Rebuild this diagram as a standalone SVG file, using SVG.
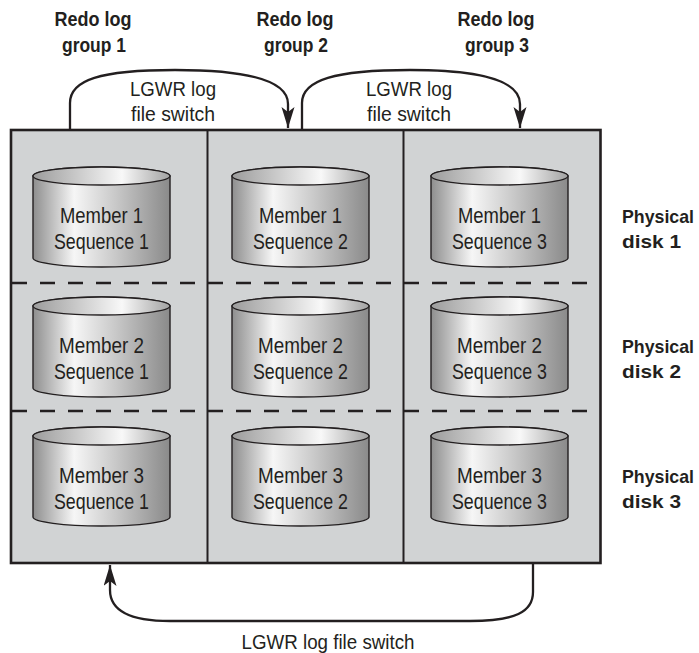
<svg xmlns="http://www.w3.org/2000/svg" width="699" height="653" viewBox="0 0 699 653">
<style>
.lbl{font-family:"Liberation Sans",Arial,sans-serif;font-weight:bold;font-size:20px;fill:#231f20}
.side{font-family:"Liberation Sans",Arial,sans-serif;font-weight:bold;font-size:18.5px;fill:#231f20}
.cyl{font-family:"Liberation Sans",Arial,sans-serif;font-size:22.5px;fill:#231f20;text-anchor:middle}
.arr{font-family:"Liberation Sans",Arial,sans-serif;font-size:20px;fill:#231f20;text-anchor:middle}
.body{fill:url(#gBody);stroke:#231f20;stroke-width:1.4}
.top{fill:url(#gTop);stroke:#231f20;stroke-width:1.4}
.conn{fill:none;stroke:#231f20;stroke-width:2.3;marker-end:url(#ah)}
.dash{stroke:#231f20;stroke-width:2.3;stroke-dasharray:15 13}
</style>
<defs>
<linearGradient id="gBody" x1="0" y1="0" x2="1" y2="0">
<stop offset="0" stop-color="#8e8e8e"/>
<stop offset="0.3" stop-color="#f6f6f6"/>
<stop offset="0.6" stop-color="#c9c9c9"/>
<stop offset="1" stop-color="#8a8a8a"/>
</linearGradient>
<linearGradient id="gTop" x1="0" y1="0" x2="1" y2="0">
<stop offset="0" stop-color="#9c9c9c"/>
<stop offset="0.65" stop-color="#f8f8f8"/>
<stop offset="1" stop-color="#a2a2a2"/>
</linearGradient>
<marker id="ah" markerUnits="userSpaceOnUse" markerWidth="24" markerHeight="14" refX="21" refY="6.5" orient="auto">
<path d="M0,0 L21,6.5 L0,13 L5,6.5 Z" fill="#231f20"/>
</marker>
</defs>
<rect width="699" height="653" fill="#ffffff"/>

<g id="frame">
<rect x="11" y="130" width="589.5" height="433" fill="#d1d3d4" stroke="#231f20" stroke-width="2.6"/>
<line x1="207.5" y1="130" x2="207.5" y2="563" stroke="#231f20" stroke-width="2"/>
<line x1="403.5" y1="130" x2="403.5" y2="563" stroke="#231f20" stroke-width="2"/>
<line class="dash" x1="12" y1="283" x2="600" y2="283"/>
<line class="dash" x1="12" y1="411" x2="600" y2="411"/>
</g>

<g id="labels-top">
<text class="lbl" x="93" y="26" text-anchor="middle" textLength="77" lengthAdjust="spacingAndGlyphs">Redo log</text>
<text class="lbl" x="94" y="52" text-anchor="middle" textLength="64" lengthAdjust="spacingAndGlyphs">group 1</text>
<text class="lbl" x="295" y="26" text-anchor="middle" textLength="77" lengthAdjust="spacingAndGlyphs">Redo log</text>
<text class="lbl" x="296" y="52" text-anchor="middle" textLength="64" lengthAdjust="spacingAndGlyphs">group 2</text>
<text class="lbl" x="496" y="26" text-anchor="middle" textLength="77" lengthAdjust="spacingAndGlyphs">Redo log</text>
<text class="lbl" x="497" y="52" text-anchor="middle" textLength="64" lengthAdjust="spacingAndGlyphs">group 3</text>
</g>

<g id="labels-right">
<text class="side" x="622" y="222.5" textLength="72" lengthAdjust="spacingAndGlyphs">Physical</text>
<text class="side" x="622" y="248" textLength="59" lengthAdjust="spacingAndGlyphs">disk 1</text>
<text class="side" x="622" y="352.5" textLength="72" lengthAdjust="spacingAndGlyphs">Physical</text>
<text class="side" x="622" y="378" textLength="59" lengthAdjust="spacingAndGlyphs">disk 2</text>
<text class="side" x="622" y="482.5" textLength="72" lengthAdjust="spacingAndGlyphs">Physical</text>
<text class="side" x="622" y="508" textLength="59" lengthAdjust="spacingAndGlyphs">disk 3</text>
</g>

<g id="connectors">
<path class="conn" d="M70,130 V103 C70,80 100,70 175,70 C245,70 288,80 288,104 V128"/>
<path class="conn" d="M302,130 V103 C302,80 335,70 410,70 C480,70 520,80 520,104 V128"/>
<path class="conn" d="M533,564 V592 C533,612 515,621 470,621 H170 C130,621 110,610 110,590 V565"/>
<text class="arr" x="173" y="96" textLength="86" lengthAdjust="spacingAndGlyphs">LGWR log</text>
<text class="arr" x="173" y="120.5" textLength="84" lengthAdjust="spacingAndGlyphs">file switch</text>
<text class="arr" x="409" y="96" textLength="86" lengthAdjust="spacingAndGlyphs">LGWR log</text>
<text class="arr" x="409" y="120.5" textLength="84" lengthAdjust="spacingAndGlyphs">file switch</text>
<text class="arr" x="328" y="649" textLength="173" lengthAdjust="spacingAndGlyphs">LGWR log file switch</text>
</g>

<g id="m1s1"><path class="body" d="M33,176 V258 A68.5,9 0 0 0 170,258 V176 A68.5,9 0 0 0 33,176 Z"/><ellipse class="top" cx="101.5" cy="176" rx="68.5" ry="9"/>
<text class="cyl" x="101.5" y="223" textLength="83" lengthAdjust="spacingAndGlyphs">Member 1</text><text class="cyl" x="101.5" y="249" textLength="95" lengthAdjust="spacingAndGlyphs">Sequence 1</text></g>
<g id="m1s2"><path class="body" d="M232,176 V258 A68.5,9 0 0 0 369,258 V176 A68.5,9 0 0 0 232,176 Z"/><ellipse class="top" cx="300.5" cy="176" rx="68.5" ry="9"/>
<text class="cyl" x="300.5" y="223" textLength="83" lengthAdjust="spacingAndGlyphs">Member 1</text><text class="cyl" x="300.5" y="249" textLength="95" lengthAdjust="spacingAndGlyphs">Sequence 2</text></g>
<g id="m1s3"><path class="body" d="M431,176 V258 A68.5,9 0 0 0 568,258 V176 A68.5,9 0 0 0 431,176 Z"/><ellipse class="top" cx="499.5" cy="176" rx="68.5" ry="9"/>
<text class="cyl" x="499.5" y="223" textLength="83" lengthAdjust="spacingAndGlyphs">Member 1</text><text class="cyl" x="499.5" y="249" textLength="95" lengthAdjust="spacingAndGlyphs">Sequence 3</text></g>

<g id="m2s1"><path class="body" d="M33,306 V388 A68.5,9 0 0 0 170,388 V306 A68.5,9 0 0 0 33,306 Z"/><ellipse class="top" cx="101.5" cy="306" rx="68.5" ry="9"/>
<text class="cyl" x="101.5" y="353" textLength="85" lengthAdjust="spacingAndGlyphs">Member 2</text><text class="cyl" x="101.5" y="379" textLength="95" lengthAdjust="spacingAndGlyphs">Sequence 1</text></g>
<g id="m2s2"><path class="body" d="M232,306 V388 A68.5,9 0 0 0 369,388 V306 A68.5,9 0 0 0 232,306 Z"/><ellipse class="top" cx="300.5" cy="306" rx="68.5" ry="9"/>
<text class="cyl" x="300.5" y="353" textLength="85" lengthAdjust="spacingAndGlyphs">Member 2</text><text class="cyl" x="300.5" y="379" textLength="95" lengthAdjust="spacingAndGlyphs">Sequence 2</text></g>
<g id="m2s3"><path class="body" d="M431,306 V388 A68.5,9 0 0 0 568,388 V306 A68.5,9 0 0 0 431,306 Z"/><ellipse class="top" cx="499.5" cy="306" rx="68.5" ry="9"/>
<text class="cyl" x="499.5" y="353" textLength="85" lengthAdjust="spacingAndGlyphs">Member 2</text><text class="cyl" x="499.5" y="379" textLength="95" lengthAdjust="spacingAndGlyphs">Sequence 3</text></g>

<g id="m3s1"><path class="body" d="M33,436 V517 A68.5,9 0 0 0 170,517 V436 A68.5,9 0 0 0 33,436 Z"/><ellipse class="top" cx="101.5" cy="436" rx="68.5" ry="9"/>
<text class="cyl" x="101.5" y="483" textLength="85" lengthAdjust="spacingAndGlyphs">Member 3</text><text class="cyl" x="101.5" y="509" textLength="95" lengthAdjust="spacingAndGlyphs">Sequence 1</text></g>
<g id="m3s2"><path class="body" d="M232,436 V517 A68.5,9 0 0 0 369,517 V436 A68.5,9 0 0 0 232,436 Z"/><ellipse class="top" cx="300.5" cy="436" rx="68.5" ry="9"/>
<text class="cyl" x="300.5" y="483" textLength="85" lengthAdjust="spacingAndGlyphs">Member 3</text><text class="cyl" x="300.5" y="509" textLength="95" lengthAdjust="spacingAndGlyphs">Sequence 2</text></g>
<g id="m3s3"><path class="body" d="M431,436 V517 A68.5,9 0 0 0 568,517 V436 A68.5,9 0 0 0 431,436 Z"/><ellipse class="top" cx="499.5" cy="436" rx="68.5" ry="9"/>
<text class="cyl" x="499.5" y="483" textLength="85" lengthAdjust="spacingAndGlyphs">Member 3</text><text class="cyl" x="499.5" y="509" textLength="95" lengthAdjust="spacingAndGlyphs">Sequence 3</text></g>
</svg>
